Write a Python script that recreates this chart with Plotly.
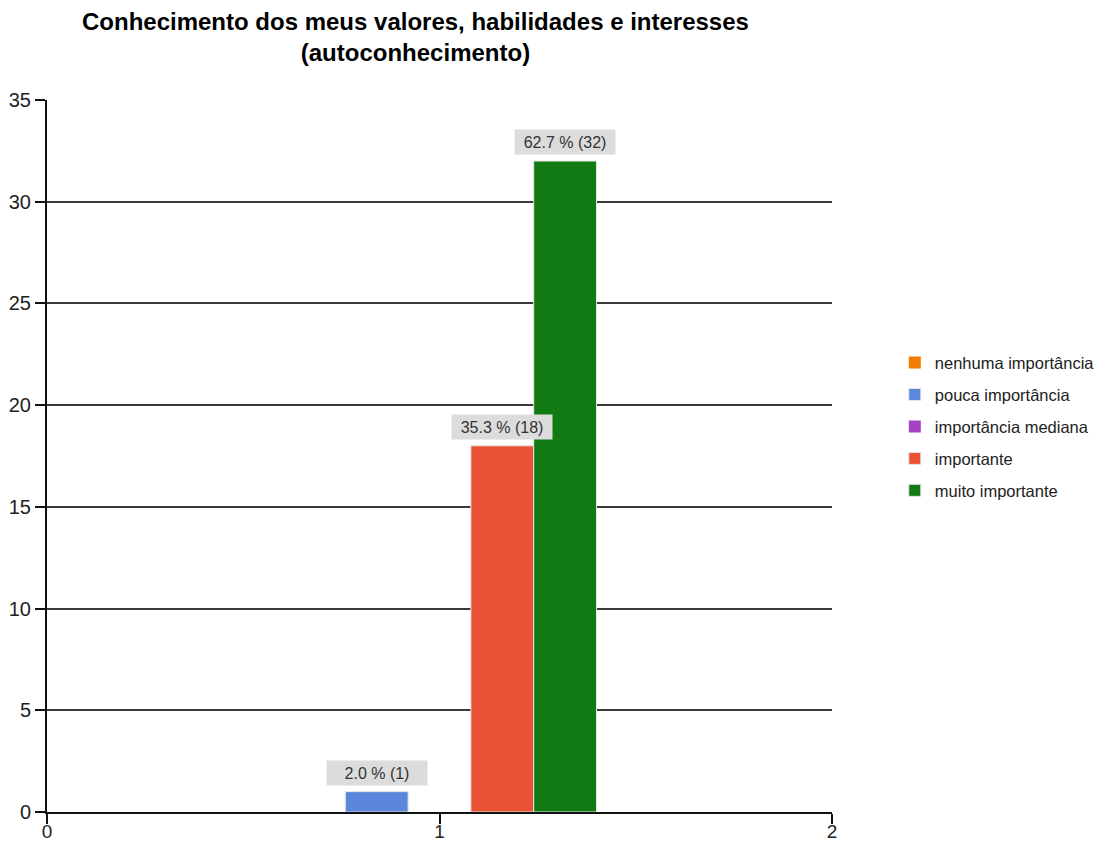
import plotly.graph_objects as go

# ---- data ----
title_text = "Conhecimento dos meus valores, habilidades e interesses<br>(autoconhecimento)"
series_names = ["nenhuma importância", "pouca importância", "importância mediana",
                "importante", "muito importante"]
counts = [0, 1, 0, 18, 32]
category_x = [1]
series_colors = ["#f07c00", "#5a86dc", "#a444c4", "#ea5234", "#127a12"]
x_tickvals = [0, 1, 2]
y_tickvals = [0, 5, 10, 15, 20, 25, 30, 35]

FONT = "Liberation Sans, Arial, sans-serif"
total = sum(counts)
bargap = 0.2
n = len(series_names)
bar_w = (1 - bargap) / n

fig = go.Figure()
for i, (name, c, col) in enumerate(zip(series_names, counts, series_colors)):
    fig.add_trace(go.Bar(
        x=category_x, y=[c], name=name, legendgroup=name,
        marker=dict(color=col, line=dict(color="#e4e4e4", width=1 if c > 0 else 0)),
        hoverinfo="name+y",
    ))

annotations = [dict(
    x=0.469, y=1.0885, xref="paper", yref="paper", text="<b>" + title_text + "</b>",
    showarrow=False, xanchor="center", yanchor="middle", align="center",
    font=dict(family=FONT, size=24, color="black"),
)]
for i, c in enumerate(counts):
    if c <= 0:
        continue
    pct = 100.0 * c / total
    annotations.append(dict(
        x=category_x[0] + (i - (n - 1) / 2) * bar_w, y=c, xref="x", yref="y",
        text=f"{pct:.1f} % ({c})", showarrow=False,
        xanchor="center", yanchor="bottom", yshift=6,
        bgcolor="#dcdcdc", width=96, height=20, borderpad=2,
        font=dict(family=FONT, size=16, color="#333333"),
    ))

fig.update_layout(
    width=1101, height=843, autosize=False,
    paper_bgcolor="white", plot_bgcolor="white",
    margin=dict(l=47, r=269, t=100, b=31, autoexpand=False),
    barmode="group", bargap=bargap, bargroupgap=0,
    showlegend=True,
    legend=dict(x=1.080, xanchor="left", y=0.541, yanchor="middle",
                font=dict(family=FONT, size=16.5, color="#222222"),
                tracegroupgap=7.5, traceorder="grouped",
                bgcolor="rgba(0,0,0,0)"),
    annotations=annotations,
    xaxis=dict(range=[0, 2], tickvals=x_tickvals, ticks="outside", ticklen=10,
               tickwidth=1.5, tickcolor="#111", showline=True, linecolor="#111",
               linewidth=2, showgrid=False, zeroline=False, fixedrange=True,
               automargin=False, ticklabelstandoff=-9,
               tickfont=dict(family=FONT, size=19, color="#222")),
    yaxis=dict(range=[0, 35], tickvals=y_tickvals, ticks="outside", ticklen=10,
               tickwidth=1.5, tickcolor="#111", showline=True, linecolor="#111",
               linewidth=2, showgrid=True, gridcolor="#3a3a3a", gridwidth=1.5,
               zeroline=False, fixedrange=True, automargin=False,
               tickfont=dict(family=FONT, size=20, color="#222")),
)

fig.write_html("out.html", config={"displayModeBar": False},
               post_script="document.body.style.margin='0';document.body.style.overflow='hidden';")
